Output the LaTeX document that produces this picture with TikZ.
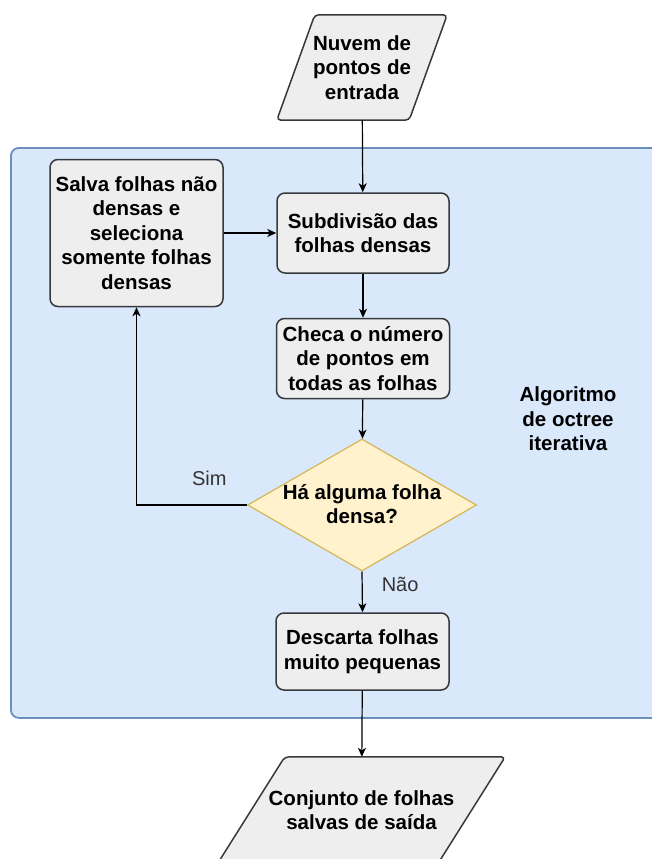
\documentclass[tikz,border=0pt]{standalone}
\usepackage{fontspec}
\setmainfont{Liberation Sans}
\usetikzlibrary{arrows.meta,shapes.geometric,backgrounds}

\definecolor{boxfill}{HTML}{EEEEEE}
\definecolor{boxline}{HTML}{36393D}
\definecolor{grpfill}{HTML}{DAE8FC}
\definecolor{grpline}{HTML}{6C8EBF}
\definecolor{decfill}{HTML}{FFF2CC}
\definecolor{decline}{HTML}{D6B656}
\definecolor{lbl}{HTML}{333333}

\tikzset{
  boxfont/.style={font=\fontsize{20.5}{24.5}\selectfont\bfseries},
  proc/.style={rectangle, rounded corners=8pt, draw=boxline, fill=boxfill,
    line width=1.5pt, align=center, boxfont, inner sep=2pt},
  iotext/.style={rectangle, draw=none, align=center, boxfont, inner sep=0pt},
  ioshape/.style={draw=boxline, fill=boxfill, line width=1.5pt, rounded corners=4pt},
  decision/.style={diamond, draw=decline, fill=decfill, line width=1.2pt,
    inner sep=0pt, minimum width=229pt, minimum height=132pt},
  group/.style={rectangle, rounded corners=8pt, draw=grpline, fill=grpfill,
    line width=1.8pt},
  flow/.style={draw=black, line width=1.2pt,
    -{Stealth[length=9pt,width=8pt,inset=2.5pt]}},
  branch/.style={font=\fontsize{20}{24}\selectfont, text=lbl, inner sep=0pt},
  note/.style={align=center, boxfont, text=black},
}

\begin{document}
\begin{tikzpicture}[x=1pt,y=-1pt]
  \path[use as bounding box] (0,0) rectangle (652,859);

  % container of the iterative loop
  \node[group, minimum width=662pt, minimum height=570pt, anchor=north west]
    (grp) at (10,147) {};
  \node[note] (grplabel) at (568,419)
    {Algoritmo\\de octree\\iterativa};

  % input / output data
  \node[iotext, minimum width=170pt, minimum height=105pt] (in) at (362,67.5)
    {Nuvem de\\pontos de\\entrada};
  \node[iotext, minimum width=287pt, minimum height=106pt] (out) at (361.5,810)
    {Conjunto de folhas\\salvas de saída};
  \begin{pgfonlayer}{background}
    \draw[ioshape] ([xshift=38pt]in.north west) -- (in.north east)
      -- ([xshift=-38pt]in.south east) -- (in.south west) -- cycle;
    \draw[ioshape] ([xshift=67pt]out.north west) -- (out.north east)
      -- ([xshift=-67pt]out.south east) -- (out.south west) -- cycle;
  \end{pgfonlayer}

  % process steps
  \node[proc, minimum width=172pt, minimum height=80pt] (sub) at (363,233)
    {Subdivisão das\\folhas densas};
  \node[proc, minimum width=173pt, minimum height=147pt] (salva) at (136.5,233)
    {Salva folhas não\\densas e\\seleciona\\somente folhas\\densas};
  \node[proc, minimum width=173pt, minimum height=80pt] (checa) at (363,358.5)
    {Checa o número\\de pontos em\\todas as folhas};
  \node[decision] (dec) at (362,505) {};
  \node[iotext] (dectext) at (362,504) {Há alguma folha\\densa?};
  \node[proc, minimum width=173pt, minimum height=77pt] (desc) at (362.5,651.5)
    {Descarta folhas\\muito pequenas};

  % connectors
  \draw[flow] (in) -- (sub);
  \draw[flow] (salva) -- (sub);
  \draw[flow] (sub) -- (checa);
  \draw[flow] (checa) -- (dec);
  \draw[flow] (dec.west) -| node[branch, pos=0.17, above=19pt, anchor=south] {Sim} (salva.south);
  \draw[flow] (dec.south) -- node[branch, pos=0.31, anchor=west, xshift=19pt] {Não} (desc.north);
  \draw[flow] (desc) -- (out);
\end{tikzpicture}
\end{document}
